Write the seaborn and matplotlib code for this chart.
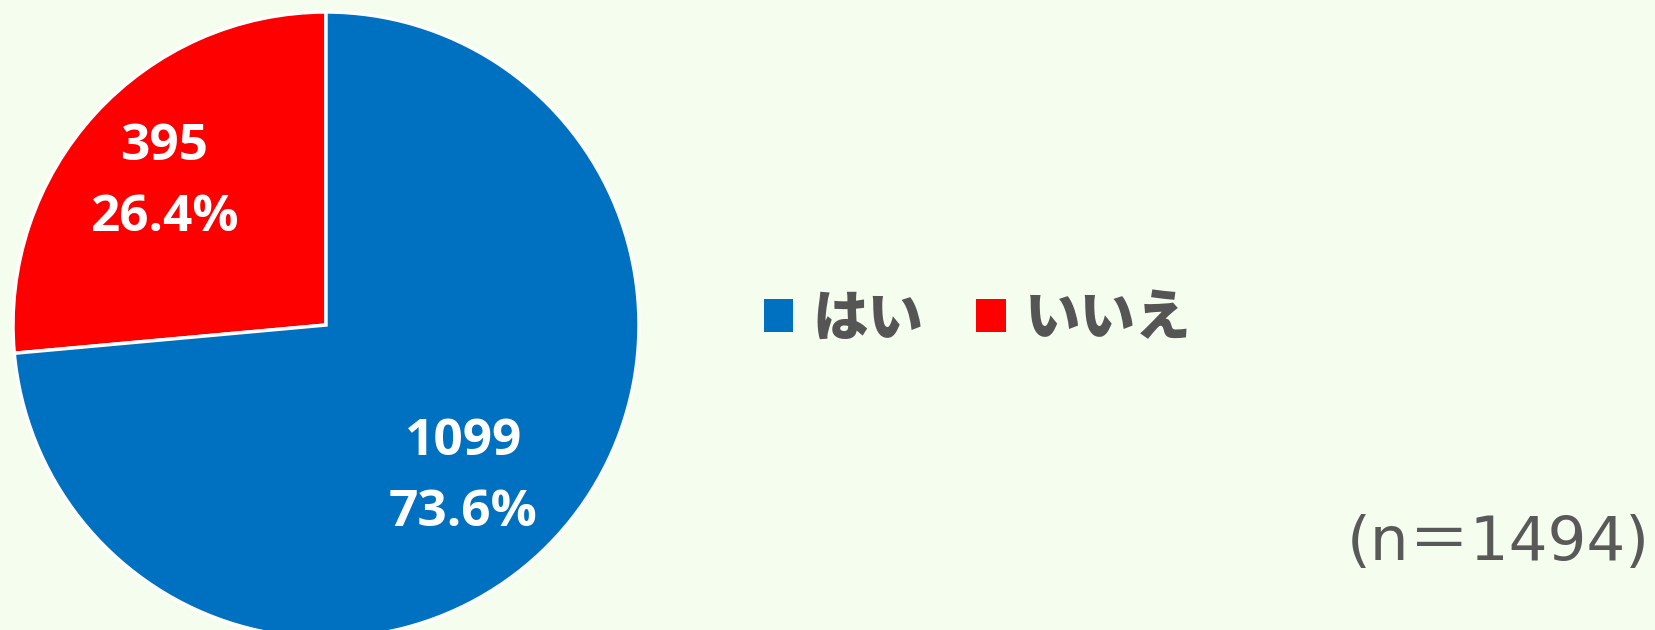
import matplotlib
matplotlib.use("Agg")
import numpy as np
import matplotlib.pyplot as plt
import seaborn as sns
from matplotlib.patches import Patch

# ---- data ----
categories = ["はい", "いいえ"]
counts = [1099, 395]
colors = ["#0070C0", "#FF0000"]
n_label = "(n＝1494)"

BG = "#F5FDEF"

sns.set_theme(style="white")
plt.rcParams["font.family"] = ["Noto Sans CJK JP", "DejaVu Sans"]

fig = plt.figure(figsize=(16.55, 6.3), dpi=100, facecolor=BG)

# pie axes (square, centred near left)
cx, cy, r = 326, 325, 313
W, H = 1655, 630
ax = fig.add_axes([(cx - r) / W, (H - cy - r) / H, 2 * r / W, 2 * r / H])
ax.set_facecolor(BG)

total = sum(counts)
# draw いいえ first counter-clockwise from top, then はい
order = [1, 0]
vals = [counts[i] for i in order]
cols = [colors[i] for i in order]
# label placement style (per drawn wedge: いいえ, はい)
label_dist = [0.69, 0.655]
label_rot = [1.0, -5.5]  # degrees away from wedge mid-angle

def fmt(p):
    c = int(round(p * total / 100.0))
    return f"{c}\n{p:.1f}%"

wedges, texts, autotexts = ax.pie(
    vals, colors=cols, startangle=90, counterclock=True,
    autopct=fmt, pctdistance=0.67, radius=1,
    wedgeprops=dict(edgecolor="white", linewidth=2.5),
    textprops=dict(color="white", fontsize=37, fontweight="bold",
                   family=["Open Sans", "DejaVu Sans"]),
)
for w, t, d, rot in zip(wedges, autotexts, label_dist, label_rot):
    th = np.deg2rad((w.theta1 + w.theta2) / 2 + rot)
    t.set_position((d * np.cos(th), d * np.sin(th)))
    t.set_linespacing(1.55)
ax.set_xlim(-1, 1)
ax.set_ylim(-1, 1)
ax.set_aspect("equal")
ax.axis("off")

# legend
handles = [Patch(facecolor=colors[i], edgecolor="none", label=categories[i]) for i in range(2)]
leg = fig.legend(
    handles=handles, loc="center left", bbox_to_anchor=(764 / W, 1 - 319 / H),
    ncol=2, frameon=False, handlelength=0.53, handleheight=0.53,
    handletextpad=0.34, columnspacing=0.95, borderpad=0, borderaxespad=0,
    prop=dict(family=["Noto Sans CJK JP"], weight="heavy", size=40),
)
for t in leg.get_texts():
    t.set_color("#555555")

fig.text(1650 / W, 1 - 544 / H, n_label, ha="right", va="center",
         fontsize=44, color="#595959", family=["DejaVu Sans", "Noto Sans CJK JP"])

fig.savefig("out.png", dpi=100, facecolor=BG)
